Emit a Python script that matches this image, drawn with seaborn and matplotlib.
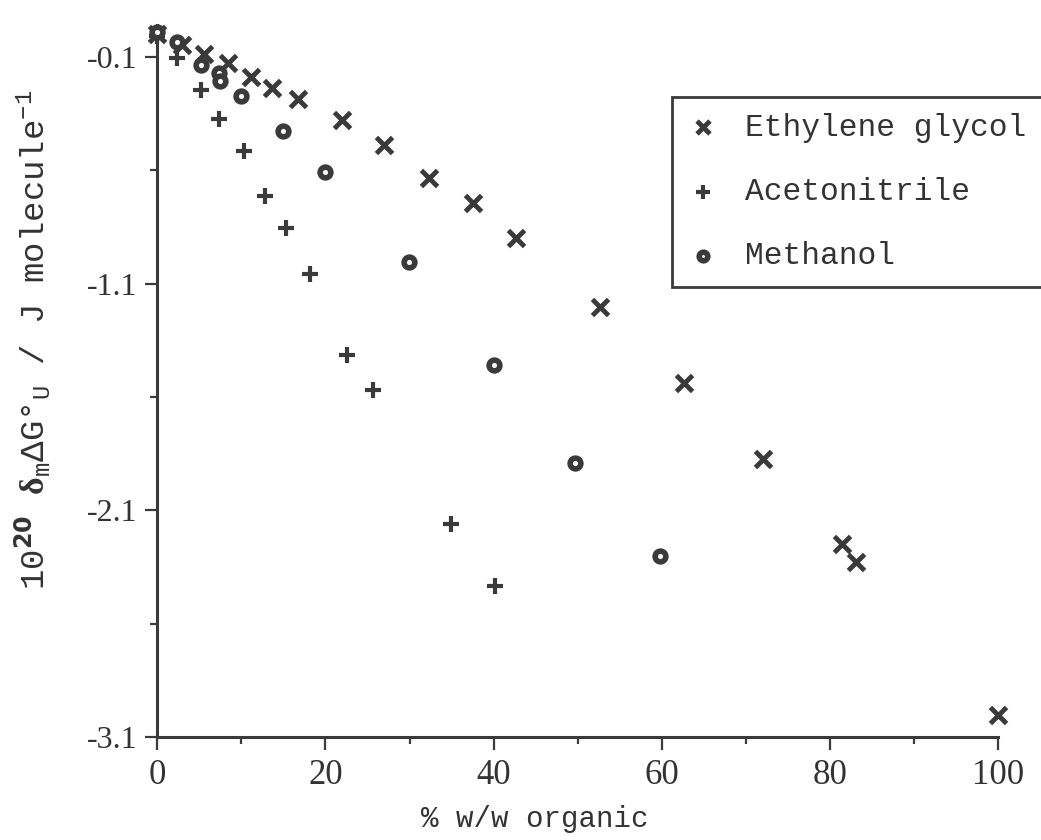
import matplotlib
matplotlib.use("Agg")
import matplotlib.pyplot as plt
import seaborn as sns
import pandas as pd
from matplotlib.ticker import MultipleLocator, FixedLocator

# ---- data ----
eg_x = [0, 2.9, 5.6, 8.4, 11.2, 13.7, 16.7, 22.0, 27.0, 32.3, 37.5, 42.6, 52.6, 62.6, 72.0, 81.4, 83.1, 100]
eg_y = [0.0, -0.047, -0.088, -0.128, -0.19, -0.238, -0.286, -0.379, -0.489, -0.635, -0.746, -0.90,
        -1.205, -1.54, -1.872, -2.247, -2.33, -3.003]

acn_x = [0, 2.3, 5.2, 7.4, 10.3, 12.8, 15.3, 18.2, 22.6, 25.7, 34.9, 40.2]
acn_y = [-0.01, -0.106, -0.246, -0.376, -0.516, -0.715, -0.857, -1.06, -1.414, -1.569, -2.162, -2.436]

meoh_x = [0, 2.4, 5.2, 7.3, 7.5, 10.0, 15.0, 20.0, 29.9, 40.0, 49.7, 59.8]
meoh_y = [0.01, -0.037, -0.135, -0.17, -0.205, -0.273, -0.426, -0.608, -1.007, -1.458, -1.892, -2.303]

series_names = ["Ethylene glycol", "Acetonitrile", "Methanol"]
x_ticks = [0, 20, 40, 60, 80, 100]
y_ticks = [-3.1, -2.1, -1.1, -0.1]
y_tick_labels = ["-3.1", "-2.1", "-1.1", "-0.1"]

# ---- style ----
sns.set_style("ticks")
plt.rcParams["font.family"] = ["Liberation Mono", "DejaVu Sans"]
plt.rcParams["mathtext.fontset"] = "custom"
plt.rcParams["mathtext.rm"] = "Liberation Mono"
plt.rcParams["mathtext.it"] = "Liberation Mono"
plt.rcParams["mathtext.sf"] = "Liberation Serif:bold"

ink = "#3a3a3a"

fig = plt.figure(figsize=(10.41, 8.40), dpi=100)
ax = fig.add_axes([0.151, 0.1226, 0.808, 0.8476])

df_eg = pd.DataFrame({"x": eg_x, "y": eg_y})
df_acn = pd.DataFrame({"x": acn_x, "y": acn_y})
df_me = pd.DataFrame({"x": meoh_x, "y": meoh_y})

sns.scatterplot(data=df_eg, x="x", y="y", marker="x", s=135, color=ink,
                linewidth=3.5, label=series_names[0], ax=ax, clip_on=False, zorder=3)
sns.scatterplot(data=df_acn, x="x", y="y", marker="+", s=140, color=ink,
                linewidth=3.0, label=series_names[1], ax=ax, clip_on=False, zorder=3)
sns.scatterplot(data=df_me, x="x", y="y", marker="o", s=60, facecolor="white",
                edgecolor=ink, linewidth=4.0, label=series_names[2], ax=ax,
                clip_on=False, zorder=4)

ax.set_xlim(0, 100)
ax.set_ylim(-3.1, 0.04)

sns.despine(ax=ax)
for side in ["left", "bottom"]:
    ax.spines[side].set_linewidth(2.2)
    ax.spines[side].set_color(ink)

ax.xaxis.set_major_locator(FixedLocator(x_ticks))
ax.xaxis.set_minor_locator(MultipleLocator(10))
ax.yaxis.set_major_locator(FixedLocator(y_ticks))
ax.yaxis.set_minor_locator(FixedLocator([-2.6, -1.6, -0.6]))
ax.set_yticklabels(y_tick_labels)
ax.set_xticklabels([str(v) for v in x_ticks])

ax.tick_params(axis="both", which="major", direction="out", length=9, width=1.6,
               color=ink, labelcolor="#333333")
ax.tick_params(axis="x", which="major", pad=7)
ax.tick_params(axis="y", which="major", pad=5)
ax.tick_params(axis="both", which="minor", direction="out", length=5, width=1.6, color=ink)
for lab in ax.get_xticklabels():
    lab.set_fontfamily("Liberation Serif")
    lab.set_fontsize(25)
for lab in ax.get_yticklabels():
    lab.set_fontfamily("Liberation Serif")
    lab.set_fontsize(23)

ax.set_xlabel("% w/w organic", fontsize=21, color="#333333")
ax.xaxis.set_label_coords(0.449, -0.095)
ax.set_ylabel(r"$10^{\mathbf{20}}$ $\mathsf{δ}_{\mathrm{m}}\mathrm{ΔG°}_{\mathrm{U}}$ / J molecule$^{-1}$",
              fontsize=24.5, color="#333333")
ax.yaxis.set_label_coords(-0.124, 0.5576)

leg = ax.legend(loc="upper left", bbox_to_anchor=(0.6455, 0.8845),
                bbox_transform=fig.transFigure, fontsize=22.5, frameon=True,
                fancybox=False, framealpha=1, edgecolor=ink, borderpad=0.5,
                borderaxespad=0, labelspacing=1.1, handlelength=1.0, handletextpad=0.85,
                markerscale=0.8)
leg.get_frame().set_linewidth(2.0)
for t in leg.get_texts():
    t.set_color("#333333")

fig.savefig("out.png", dpi=100, facecolor="white")
